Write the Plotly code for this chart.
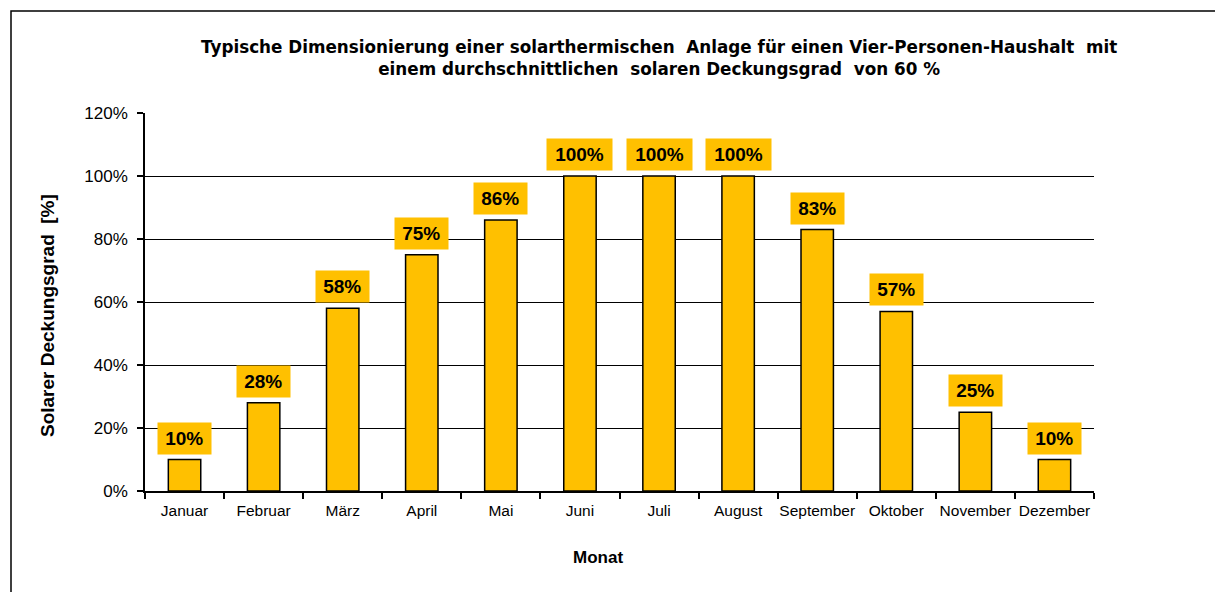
import plotly.graph_objects as go

months = ["Januar", "Februar", "März", "April", "Mai", "Juni", "Juli",
          "August", "September", "Oktober", "November", "Dezember"]
values = [10, 28, 58, 75, 86, 100, 100, 100, 83, 57, 25, 10]
labels = [f"{v}%" for v in values]

W, H = 1223, 592
OFF = 8  # page body margin
# plot area in page pixels (reference): x 145..1094, y 113..491
PX0, PX1, PY0, PY1 = 145, 1094, 113, 491
L, T = PX0 - OFF, PY0 - OFF
pw, ph = PX1 - PX0, PY1 - PY0
R, B = W - L - pw, H - T - ph

def fx(px):
    return (px - PX0) / pw

def fy(py):
    return (PY1 - py) / ph

gold = "#FFC000"
FONT = "Liberation Sans, Arial"

fig = go.Figure()
fig.add_trace(go.Bar(
    x=months, y=values,
    marker=dict(color=gold, line=dict(color="black", width=1.5)),
    width=0.41,
    hoverinfo="x+y",
))

for m, v, t in zip(months, values, labels):
    fig.add_annotation(x=m, y=v, text=f"<b>{t}</b>", showarrow=False,
                       yanchor="bottom", yshift=5, bgcolor=gold,
                       borderpad=2, width=12.5 * len(t) + 11, height=27,
                       font=dict(family=FONT, size=19, color="black"))

fig.add_annotation(xref="paper", yref="paper",
                   x=fx(659), y=fy(58), yanchor="middle", xanchor="center",
                   text="<b>Typische Dimensionierung einer solarthermischen  Anlage für einen Vier-Personen-Haushalt  mit</b><br><b>einem durchschnittlichen  solaren Deckungsgrad  von 60 %</b>",
                   showarrow=False, align="center",
                   font=dict(family="DejaVu Sans", size=16.8, color="black"))

fig.add_annotation(xref="paper", yref="paper",
                   x=fx(598), y=fy(557), yanchor="middle", xanchor="center",
                   text="<b>Monat</b>", showarrow=False,
                   font=dict(family=FONT, size=17, color="black"))

fig.add_annotation(xref="paper", yref="paper",
                   x=fx(47), y=fy(316), yanchor="middle", xanchor="center",
                   text="<b>Solarer Deckungsgrad  [%]</b>", showarrow=False,
                   textangle=-90,
                   font=dict(family=FONT, size=19, color="black"))

# outer frame
fig.add_shape(type="rect", xref="paper", yref="paper",
              x0=fx(11), x1=fx(1216), y0=fy(640), y1=fy(11),
              line=dict(color="black", width=1.5), fillcolor="rgba(0,0,0,0)", layer="below")

fig.update_layout(
    width=W, height=H,
    margin=dict(l=L, r=R, t=T, b=B),
    paper_bgcolor="white", plot_bgcolor="white",
    showlegend=False,
    font=dict(family=FONT, color="black"),
    xaxis=dict(
        type="category", tickson="boundaries", ticks="outside", ticklen=6,
        tickcolor="black", tickwidth=1.5, tickangle=0,
        showline=True, linecolor="black", linewidth=1.5,
        showgrid=False,
        tickfont=dict(size=15.5),
        ticklabelstandoff=5,
    ),
    yaxis=dict(
        range=[0, 120], dtick=20, ticksuffix="%",
        ticks="outside", ticklen=6, tickcolor="black", tickwidth=1.5,
        showline=True, linecolor="black", linewidth=1.5,
        showgrid=True, gridcolor="black", gridwidth=1,
        zeroline=False,
        tickfont=dict(size=17),
        ticklabelstandoff=6,
    ),
)

fig.write_html("out.html")
